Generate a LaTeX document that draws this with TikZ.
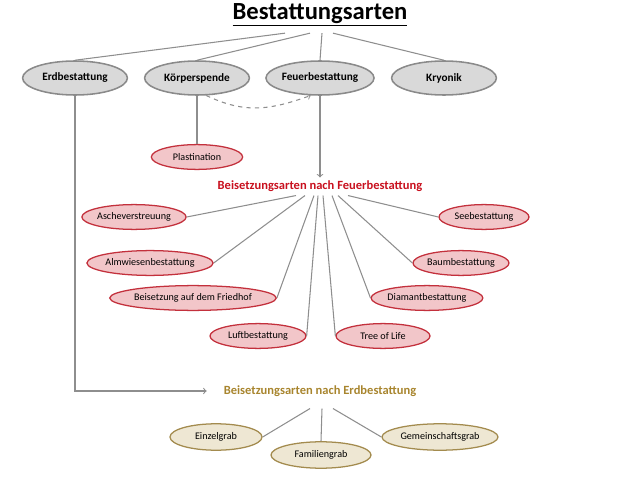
\documentclass[tikz,border=0pt]{standalone}
\usepackage{fontspec}
\setmainfont{Carlito}
\usetikzlibrary{calc,shapes.geometric}

\definecolor{linegray}{HTML}{8E8E8E}
\definecolor{topfill}{HTML}{D9D9D9}
\definecolor{topdraw}{HTML}{8A8A8A}
\definecolor{redfill}{HTML}{F2C6C9}
\definecolor{reddraw}{HTML}{C3303C}
\definecolor{redtext}{HTML}{C8101E}
\definecolor{tanfill}{HTML}{EEE7D3}
\definecolor{tandraw}{HTML}{A38B4E}
\definecolor{tantext}{HTML}{A8852E}

\tikzset{
  topart/.style={ellipse, draw=topdraw, fill=topfill, line width=1.1pt,
    minimum width=2.62cm, minimum height=0.85cm, inner sep=0pt,
    font=\fontsize{8}{9}\selectfont\bfseries},
  redart/.style={ellipse, draw=reddraw, fill=redfill, line width=0.9pt,
    minimum height=0.62cm, inner sep=0pt, font=\fontsize{7.2}{8}\selectfont},
  tanart/.style={ellipse, draw=tandraw, fill=tanfill, line width=0.9pt,
    minimum height=0.66cm, inner sep=0pt, font=\fontsize{7.2}{8}\selectfont},
  grouplabel/.style={font=\fontsize{8.9}{10}\selectfont\bfseries, inner sep=2pt},
  conn/.style={draw=linegray, line width=0.75pt}
}

\begin{document}
\begin{tikzpicture}[x=0.025cm, y=-0.025cm]
  \useasboundingbox (0,0) rectangle (640,480);

  % Titel
  \node[inner sep=1pt] (titel) at (320,15) {\fontsize{17.5}{20}\selectfont\bfseries\underline{Bestattungsarten}};

  % Hauptarten
  \node[topart] (erd)  at (75,78)  {Erdbestattung};
  \node[topart] (kp)   at (197,78) {Körperspende};
  \node[topart] (feu)  at (320,78) {Feuerbestattung};
  \node[topart] (kry)  at (444,78) {Kryonik};

  \foreach \n/\dx in {erd/-35, kp/-10, feu/2, kry/13}
    \draw[conn] ($(titel.south)+(\dx,5)$) -- (\n.north);

  % Körperspende
  \node[redart, minimum width=2.28cm] (plast) at (197,157) {Plastination};
  \draw[conn] (kp.south) -- (plast.north);
  \draw[conn, dashed, ->] (kp.-62) .. controls (245,114) and (270,110) .. (feu.-118);

  % Feuerbestattung
  \node[grouplabel, text=redtext] (fbl) at (320,186) {Beisetzungsarten nach Feuerbestattung};
  \draw[conn, ->] (feu.south) -- (fbl.north);

  \node[redart, minimum width=2.5cm]  (asche) at (134,217) {Ascheverstreuung};
  \node[redart, minimum width=2.25cm] (see)   at (484,217) {Seebestattung};
  \node[redart, minimum width=2.92cm] (alm)   at (150,263) {Almwiesenbestattung};
  \node[redart, minimum width=2.4cm]  (baum)  at (461,263) {Baumbestattung};
  \node[redart, minimum width=4.0cm]  (fried) at (193,298) {Beisetzung auf dem Friedhof};
  \node[redart, minimum width=2.65cm] (diam)  at (427,298) {Diamantbestattung};
  \node[redart, minimum width=2.4cm]  (luft)  at (258,336) {Luftbestattung};
  \node[redart, minimum width=2.35cm] (tree)  at (383,336) {Tree of Life};

  \foreach \n/\dx/\a in {asche/-24/east, alm/-15/east, fried/-6/east, luft/-2/east,
                         tree/3/west, diam/12/west, baum/18/west, see/28/west}
    \draw[conn] ($(fbl.south)+(\dx,1)$) -- (\n.\a);

  % Erdbestattung
  \node[grouplabel, text=tantext] (ebl) at (320,391) {Beisetzungsarten nach Erdbestattung};
  \draw[conn, ->, shorten >=10pt] (erd.south) |- (ebl.west);

  \node[tanart, minimum width=2.3cm]  (einzel) at (216,437) {Einzelgrab};
  \node[tanart, minimum width=2.5cm]  (fam)    at (321,455) {Familiengrab};
  \node[tanart, minimum width=2.9cm]  (gem)    at (440,437) {Gemeinschaftsgrab};

  \foreach \n/\dx/\a in {einzel/-10/east, fam/2/north, gem/13/west}
    \draw[conn] ($(ebl.south)+(\dx,9)$) -- (\n.\a);
\end{tikzpicture}
\end{document}
